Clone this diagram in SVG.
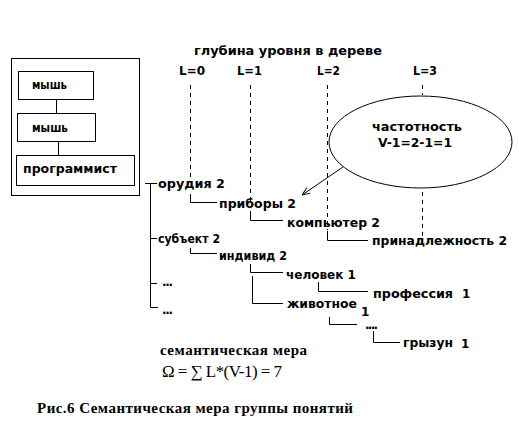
<svg xmlns="http://www.w3.org/2000/svg" width="519" height="443" viewBox="0 0 519 443">
<style>
.s{font-family:"DejaVu Sans","Liberation Sans",sans-serif;font-weight:bold;font-size:12px;fill:#000}
.r{font-family:"Liberation Serif","DejaVu Serif",serif;fill:#000}
.ln{fill:none;stroke:#000;stroke-width:1}
.dash{fill:none;stroke:#000;stroke-width:1;stroke-dasharray:4,4}
</style>
<defs>
<marker id="arr" viewBox="0 0 10 10" refX="10" refY="5" markerWidth="8" markerHeight="8" orient="auto" markerUnits="userSpaceOnUse">
<path d="M0,1 L10,5 L0,9" fill="none" stroke="#000" stroke-width="1.2"/>
</marker>
</defs>
<rect width="519" height="443" fill="#fff"/>
<g id="frame">
<rect x="11.5" y="58.5" width="128" height="137" class="ln"/>
</g>
<g id="box-mouse1">
<rect x="18.5" y="71.5" width="75" height="28" class="ln"/>
<text class="s" x="32" y="89" textLength="35" lengthAdjust="spacingAndGlyphs">мышь</text>
</g>
<g id="box-mouse2">
<rect x="17.5" y="113.5" width="78" height="28" class="ln"/>
<text class="s" x="32" y="132" textLength="36" lengthAdjust="spacingAndGlyphs">мышь</text>
</g>
<g id="box-programmer">
<rect x="16.5" y="155.5" width="118" height="30" class="ln"/>
<text class="s" x="23" y="173" textLength="94" lengthAdjust="spacingAndGlyphs">программист</text>
</g>
<g id="header">
<text class="s" x="194" y="55" textLength="188" lengthAdjust="spacingAndGlyphs">глубина уровня в дереве</text>
<text class="s" x="179" y="75" textLength="26" lengthAdjust="spacingAndGlyphs">L=0</text>
<text class="s" x="237" y="75" textLength="25" lengthAdjust="spacingAndGlyphs">L=1</text>
<text class="s" x="317" y="75" textLength="23" lengthAdjust="spacingAndGlyphs">L=2</text>
<text class="s" x="413" y="75" textLength="24" lengthAdjust="spacingAndGlyphs">L=3</text>
</g>
<g id="ellipse-node">
<ellipse cx="420.5" cy="142" rx="91.5" ry="46" class="ln"/>
<text class="s" x="372" y="131" textLength="90" lengthAdjust="spacingAndGlyphs">частотность</text>
<text class="s" x="378" y="147" textLength="74" lengthAdjust="spacingAndGlyphs">V-1=2-1=1</text>
</g>
<g id="tree-nodes">
<text class="s" x="158" y="188" textLength="67" lengthAdjust="spacingAndGlyphs">орудия 2</text>
<text class="s" x="219" y="208" textLength="77" lengthAdjust="spacingAndGlyphs">приборы 2</text>
<text class="s" x="287" y="227" textLength="93" lengthAdjust="spacingAndGlyphs">компьютер 2</text>
<text class="s" x="372" y="245" textLength="135" lengthAdjust="spacingAndGlyphs">принадлежность 2</text>
<text class="s" x="158" y="243" textLength="62" lengthAdjust="spacingAndGlyphs">субъект 2</text>
<text class="s" x="219" y="260" textLength="68" lengthAdjust="spacingAndGlyphs">индивид 2</text>
<text class="s" x="286" y="279" textLength="70" lengthAdjust="spacingAndGlyphs">человек 1</text>
<text class="s" x="373" y="298" textLength="80" lengthAdjust="spacingAndGlyphs">профессия</text>
<text class="s" x="462" y="298">1</text>
<text class="s" x="287" y="308" textLength="70" lengthAdjust="spacingAndGlyphs">животное</text>
<text class="s" x="361" y="316">1</text>
<text class="s" x="365" y="329" textLength="13" lengthAdjust="spacing">....</text>
<text class="s" x="403" y="347" textLength="50" lengthAdjust="spacingAndGlyphs">грызун</text>
<text class="s" x="461" y="348">1</text>
<text class="s" x="162" y="286" textLength="11" lengthAdjust="spacing">...</text>
<text class="s" x="162" y="314" textLength="11" lengthAdjust="spacing">...</text>
</g>
<g id="connectors">
<path class="ln" d="M56.5,99.5 V113.5 M58.5,141.5 V155.5"/>
<path class="ln" d="M145,183.5 H157 M150.5,183.5 V307.5 H158 M150.5,238.5 H157 M150.5,283.5 H157"/>
<path class="ln" d="M190.5,194 V202.5 H217"/>
<path class="ln" d="M250.5,211 V220.5 H283"/>
<path class="ln" d="M327.5,231 V240.5 H368"/>
<path class="ln" d="M190.5,248 V253.5 H217"/>
<path class="ln" d="M250.5,264 V272.5 H283"/>
<path class="ln" d="M252.5,276 V303.5 H283"/>
<path class="ln" d="M318.5,282 V291.5 H368"/>
<path class="ln" d="M329.5,317 V324.5 H357"/>
<path class="ln" d="M373.5,331 V342.5 H400"/>
<path class="dash" d="M190.5,85 V178"/>
<path class="dash" d="M250.5,85 V204"/>
<path class="dash" d="M327.5,85 V230"/>
<path class="dash" d="M422.5,85 V95 M422.5,192 V236"/>
<path class="ln" d="M343,167 L302,195" marker-end="url(#arr)"/>
</g>
<g id="formula">
<text class="r" x="160" y="355" font-size="15" font-weight="bold" textLength="147" lengthAdjust="spacing">семантическая мера</text>
<text class="r" x="162" y="377" font-size="17" textLength="120" lengthAdjust="spacing">Ω = ∑ L*(V-1) = 7</text>
</g>
<g id="caption">
<text class="r" x="37" y="413" font-size="15" font-weight="bold" textLength="316" lengthAdjust="spacing">Рис.6 Семантическая мера группы понятий</text>
</g>
</svg>
